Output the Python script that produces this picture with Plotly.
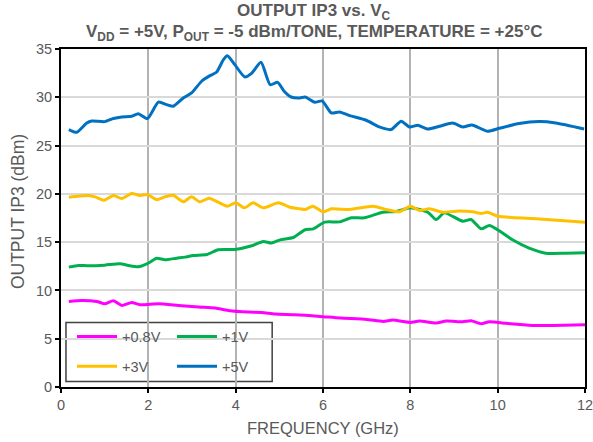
import plotly.graph_objects as go

# +5V
f5 = [0.18,0.36,0.59,0.70,1.0,1.2,1.39,1.62,1.77,1.98,2.23,2.42,2.57,2.8,2.99,3.22,3.41,3.56,3.72,3.81,3.98,4.21,4.37,4.58,4.79,4.96,5.11,5.27,5.47,5.59,5.81,5.98,6.19,6.38,6.61,6.99,7.29,7.56,7.79,7.98,8.17,8.4,8.67,8.97,9.2,9.41,9.77,10.04,10.49,10.95,11.33,11.98]
v5 = [26.66,26.38,27.34,27.55,27.48,27.8,27.97,28.03,28.3,27.8,29.5,29.24,29.07,29.93,30.45,31.66,32.24,32.59,33.9,34.3,33.38,32.1,32.5,33.62,31.3,31.55,30.62,30.03,29.93,30.03,29.48,29.62,28.38,28.48,28.1,27.62,26.93,26.66,27.52,26.93,27.1,26.72,27.0,27.34,26.93,27.14,26.48,26.79,27.28,27.48,27.34,26.72]

# +3V
f3 = [0.18,0.4,0.63,0.78,0.99,1.2,1.39,1.62,1.81,1.98,2.19,2.38,2.57,2.8,2.99,3.18,3.39,3.6,3.81,4.0,4.2,4.4,4.63,4.98,5.24,5.47,5.59,5.77,6.0,6.19,6.61,7.14,7.45,7.75,8.0,8.21,8.44,8.74,9.05,9.43,9.62,9.77,10.0,10.8,12.0]
v3 = [19.66,19.76,19.83,19.69,19.34,19.83,19.52,20.03,19.83,19.93,19.41,19.69,19.86,19.17,19.69,19.17,19.55,19.14,18.72,19.07,18.55,19.07,18.55,19.07,18.62,18.45,18.38,18.72,18.14,18.45,18.38,18.72,18.38,18.14,18.72,18.28,18.45,18.1,18.21,18.14,17.97,18.1,17.69,17.45,17.07]

# +1V
f1 = [0.18,0.4,0.63,1.0,1.35,1.54,1.77,2.0,2.19,2.38,2.65,2.84,3.03,3.34,3.6,3.98,4.37,4.63,4.82,5.02,5.32,5.59,5.78,6.04,6.38,6.65,6.95,7.37,7.68,8.0,8.4,8.59,8.78,9.2,9.39,9.62,9.81,10.0,10.34,10.72,11.1,11.56,12.0]
v1 = [12.41,12.59,12.55,12.62,12.76,12.59,12.45,12.83,13.34,13.17,13.34,13.45,13.62,13.72,14.21,14.24,14.62,15.07,14.9,15.24,15.48,16.28,16.38,17.07,17.1,17.52,17.52,18.1,18.17,18.55,18.1,17.34,18.03,17.17,17.34,16.38,16.72,16.28,15.24,14.38,13.86,13.86,13.9]

# +0.8V
f08 = [0.18,0.47,0.82,1.0,1.2,1.39,1.62,1.81,2.23,2.69,3.15,3.53,3.83,4.29,4.6,4.9,5.36,5.93,6.39,7.0,7.38,7.6,8.0,8.21,8.59,8.82,9.2,9.39,9.62,9.81,10.19,10.8,11.25,12.0]
v08 = [8.86,8.97,8.86,8.62,8.93,8.45,8.76,8.52,8.62,8.45,8.28,8.17,7.93,7.76,7.72,7.55,7.48,7.31,7.14,7.0,6.79,6.93,6.69,6.83,6.62,6.83,6.76,6.86,6.55,6.76,6.59,6.38,6.38,6.45]

x_ticks = [0, 2, 4, 6, 8, 10, 12]
y_ticks = [0, 5, 10, 15, 20, 25, 30, 35]

series = [
    ("+0.8V", f08, v08, "#ff00ff", "legend"),
    ("+1V", f1, v1, "#00b050", "legend"),
    ("+3V", f3, v3, "#ffc000", "legend2"),
    ("+5V", f5, v5, "#0070c0", "legend2"),
]

fig = go.Figure()
for name, xs, ys, col, lg in series:
    fig.add_trace(go.Scatter(x=xs, y=ys, mode="lines", name=name,
                             line=dict(color=col, width=3, shape="spline", smoothing=0.6),
                             legend=lg))

FONT = "Liberation Sans, Arial, sans-serif"
GRAY = "#595959"

leg_common = dict(orientation="h", xanchor="left", yanchor="middle",
                  entrywidth=45, bgcolor="rgba(0,0,0,0)",
                  font=dict(family=FONT, size=14.5, color=GRAY),
                  tracegroupgap=0, itemwidth=40)

fig.update_layout(
    width=593, height=442,
    margin=dict(l=61, r=8, t=49, b=55, autoexpand=False),
    paper_bgcolor="white", plot_bgcolor="white",
    font=dict(family=FONT, size=14, color=GRAY),
    xaxis=dict(
        range=[0, 12], tickvals=x_ticks, ticks="outside", ticklen=4, tickwidth=2, tickcolor="black",
        showgrid=True, gridcolor="#b3b3b3", gridwidth=2,
        showline=True, linecolor="black", linewidth=2, mirror=True,
        zeroline=False, automargin=False, tickfont=dict(size=14.5, color=GRAY),
        ticklabeloverflow="allow",
    ),
    yaxis=dict(
        range=[0, 35], tickvals=y_ticks, ticks="outside", ticklen=4, tickwidth=2, tickcolor="black",
        showgrid=True, gridcolor="#d9d9d9", gridwidth=2,
        showline=True, linecolor="black", linewidth=2, mirror=True,
        zeroline=False, automargin=False, tickfont=dict(size=14.5, color=GRAY),
        ticklabeloverflow="allow",
    ),
    legend=dict(x=0.021, y=0.149, **leg_common),
    legend2=dict(x=0.021, y=0.061, **leg_common),
    showlegend=True,
    shapes=[dict(type="rect", xref="paper", yref="paper",
                 x0=0.0095, x1=0.403, y0=0.016, y1=0.191,
                 line=dict(color="#404040", width=1.5), fillcolor="white", layer="below")],
    annotations=[
        dict(text="<b>OUTPUT IP3 vs. V<sub>C</sub></b>", xref="paper", yref="paper",
             x=0.483, y=1.108, xanchor="center", yanchor="middle", showarrow=False,
             font=dict(family=FONT, size=17, color=GRAY)),
        dict(text="<b>V<sub>DD</sub> = +5V, P<sub>OUT</sub> = -5 dBm/TONE, TEMPERATURE = +25°C</b>",
             xref="paper", yref="paper",
             x=0.483, y=1.048, xanchor="center", yanchor="middle", showarrow=False,
             font=dict(family=FONT, size=17, color=GRAY)),
        dict(text="FREQUENCY (GHz)", xref="paper", yref="paper",
             x=0.5, y=-0.12, xanchor="center", yanchor="middle", showarrow=False,
             font=dict(family=FONT, size=16.5, color=GRAY)),
        dict(text="OUTPUT IP3 (dBm)", xref="paper", yref="paper", textangle=-90,
             x=-0.083, y=0.519, xanchor="center", yanchor="middle", showarrow=False,
             font=dict(family=FONT, size=17.5, color=GRAY)),
    ],
)

fig.write_html("out.html", config={"displayModeBar": False},
               post_script="document.body.style.margin='0';document.body.style.overflow='hidden';")
